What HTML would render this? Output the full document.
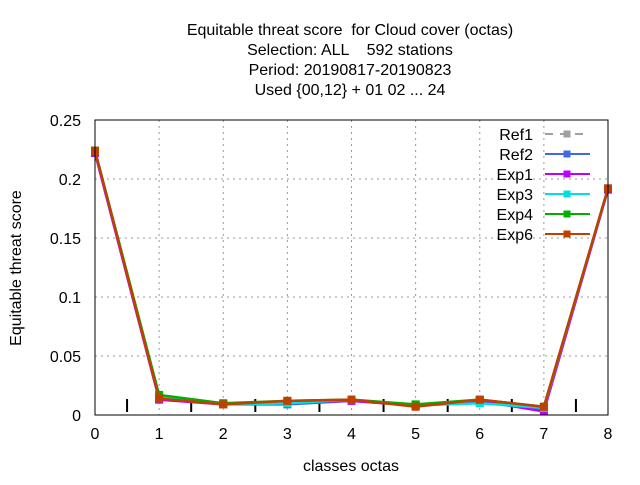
<!DOCTYPE html>
<html><head><meta charset="utf-8"><style>
body{margin:0;background:#fff;}
svg text{font-family:"Liberation Sans",sans-serif;font-size:16px;fill:#000;}
</style></head><body>
<svg id="c" width="640" height="480">
<g>
<text x="350" y="35" text-anchor="middle" xml:space="preserve">Equitable threat score  for Cloud cover (octas)</text>
<text x="350" y="55" text-anchor="middle" xml:space="preserve">Selection: ALL    592 stations</text>
<text x="350" y="75" text-anchor="middle">Period: 20190817-20190823</text>
<text x="350" y="95" text-anchor="middle">Used {00,12} + 01 02 ... 24</text>
</g>
<text transform="translate(21,268) rotate(-90)" text-anchor="middle">Equitable threat score</text>
<text x="351" y="471" text-anchor="middle">classes octas</text>
<g id="grid"></g><g id="axes"></g><g id="series"></g><g id="legend"></g>
<rect x="95" y="120" width="513" height="295" fill="none" stroke="#000" stroke-width="1"/>
</svg>
<script>
const categories=[0,1,2,3,4,5,6,7,8];
const yTicks=[0,0.05,0.1,0.15,0.2,0.25];
const yTickLabels=["0","0.05","0.1","0.15","0.2","0.25"];
const seriesNames=["Ref1","Ref2","Exp1","Exp3","Exp4","Exp6"];
const seriesColors=["#a0a0a0","#4169e1","#c000ff","#00e0e0","#00b000","#c04000"];
const ref1=[0.224,0.015,0.009,0.010,0.013,0.008,0.011,0.005,0.192];
const ref2=[0.224,0.015,0.009,0.009,0.012,0.008,0.011,0.005,0.192];
const exp1=[0.222,0.013,0.009,0.011,0.012,0.008,0.012,0.003,0.191];
const exp3=[0.224,0.016,0.009,0.010,0.013,0.008,0.010,0.006,0.192];
const exp4=[0.224,0.017,0.010,0.012,0.013,0.009,0.013,0.007,0.192];
const exp6=[0.224,0.014,0.009,0.012,0.013,0.007,0.013,0.007,0.192];
const allSeries=[ref1,ref2,exp1,exp3,exp4,exp6];
const NS="http://www.w3.org/2000/svg";
const X=v=>95+v*(513/8), Y=v=>415-v*1180;
function mk(t,a,p){const e=document.createElementNS(NS,t);for(const k in a)e.setAttribute(k,a[k]);p.appendChild(e);return e;}
const grid=document.getElementById('grid'),axes=document.getElementById('axes'),ser=document.getElementById('series'),leg=document.getElementById('legend');
categories.forEach(c=>{
 if(c>0&&c<8){const g=mk('line',{x1:X(c),x2:X(c),y1:120,y2:415,stroke:'#999','stroke-dasharray':'2,4'},grid);
 
 }
 const t=mk('text',{x:X(c),y:439,'text-anchor':'middle'},axes);t.textContent=c;
 
 
 if(c<8){const m=mk('line',{x1:X(c+0.5),x2:X(c+0.5),y1:399,y2:412,stroke:'#000','stroke-width':2},axes);
 
 }
});
yTicks.forEach((v,i)=>{
 if(i>0&&i<5){const g=mk('line',{x1:95,x2:608,y1:Y(v),y2:Y(v),stroke:'#999','stroke-dasharray':'2,4'},grid);
 
 }
 const t=mk('text',{x:81,y:Y(v)+6,'text-anchor':'end'},axes);t.textContent=yTickLabels[i];
 
 
});
allSeries.forEach((d,si)=>{
 const col=seriesColors[si];
 const pl=mk('polyline',{points:d.map((v,i)=>X(categories[i])+','+Y(v)).join(' '),fill:'none',stroke:col,'stroke-width':2.5},ser);
 if(si==0)pl.setAttribute('stroke-dasharray','8,6');
 
 
 d.forEach((v,i)=>{const p=mk('rect',{x:X(categories[i])-4,y:Y(v)-4,width:8,height:8,fill:col},ser);
 
 });
 const ly=134+si*20;
 const t=mk('text',{x:533,y:ly+6,'text-anchor':'end'},leg);t.textContent=seriesNames[si];
 
 
 const l=mk('line',{x1:545,x2:590,y1:ly,y2:ly,stroke:col,'stroke-width':2},leg);
 if(si==0)l.setAttribute('stroke-dasharray','8,7');
 
 
 const m=mk('rect',{x:563.5,y:ly-3.5,width:7,height:7,fill:col},leg);
 
 
});
</script>
</body></html>
